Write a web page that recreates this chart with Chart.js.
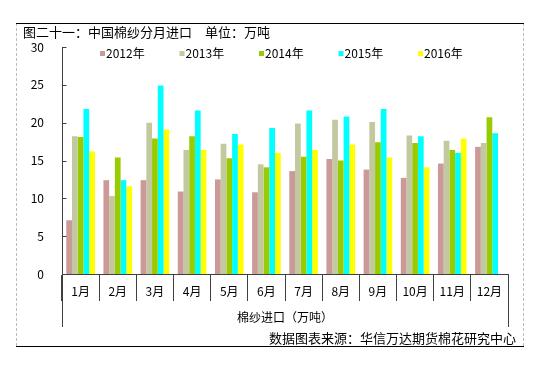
<!DOCTYPE html>
<html lang="zh">
<head>
    <meta charset="UTF-8">
    <title>中国棉纱分月进口</title>
    <style>
        html, body {
            margin: 0;
            padding: 0;
            background: #fff;
        }
        canvas {
            display: block;
        }
    </style>
    <script src="https://cdn.jsdelivr.net/npm/chart.js"></script>
</head>
<body>
    <canvas id="importChart" width="536" height="366"></canvas>
    <script>
        const months = ['1月', '2月', '3月', '4月', '5月', '6月', '7月', '8月', '9月', '10月', '11月', '12月'];
        const years = ['2012年', '2013年', '2014年', '2015年', '2016年'];
        const y2012 = [7.1, 12.4, 12.4, 10.9, 12.5, 10.8, 13.6, 15.2, 13.8, 12.7, 14.6, 16.8];
        const y2013 = [18.2, 10.3, 20.0, 16.4, 17.2, 14.5, 19.9, 20.4, 20.1, 18.3, 17.6, 17.3];
        const y2014 = [18.1, 15.4, 17.9, 18.2, 15.3, 14.1, 15.5, 15.0, 17.4, 17.3, 16.4, 20.7];
        const y2015 = [21.8, 12.4, 24.9, 21.6, 18.5, 19.3, 21.6, 20.8, 21.8, 18.2, 16.0, 18.6];
        const y2016 = [16.2, 11.6, 19.1, 16.4, 17.1, 16.0, 16.4, 17.1, 15.4, 14.1, 17.9, null];
        const colors = ['#cc9999', '#c2c9a0', '#99cc00', '#00ffff', '#ffff00'];

        const FONT = "'Noto Sans CJK SC', 'Noto Sans', sans-serif";

        // frame, titles, legend and the lines below the axis
        const decorations = {
            id: 'decorations',
            beforeDraw(chart) {
                const c = chart.ctx;
                c.save();
                c.fillStyle = '#fff';
                c.fillRect(0, 0, chart.width, chart.height);

                c.strokeStyle = '#bbb';
                c.lineWidth = 1;
                c.setLineDash([3, 2]);
                c.beginPath();
                c.moveTo(16.5, 23); c.lineTo(16.5, 346);
                c.moveTo(523.5, 23); c.lineTo(523.5, 346);
                c.stroke();
                c.setLineDash([]);

                c.strokeStyle = '#000';
                c.beginPath();
                c.moveTo(16, 23.5); c.lineTo(524, 23.5);
                c.moveTo(16, 346.5); c.lineTo(524, 346.5);
                c.stroke();

                c.fillStyle = '#000';
                c.font = '13px ' + FONT;
                c.textBaseline = 'middle';
                c.textAlign = 'left';
                c.fillText('图二十一：中国棉纱分月进口　单位：万吨', 23, 32);
                c.textAlign = 'right';
                c.fillText('数据图表来源：华信万达期货棉花研究中心', 516, 338);
                c.restore();
            },
            afterDraw(chart) {
                const c = chart.ctx;
                const area = chart.chartArea;
                const y = chart.scales.y;
                c.save();
                c.strokeStyle = '#404040';
                c.lineWidth = 1;
                c.beginPath();
                const l = Math.round(area.left) + 0.5;
                const r = Math.round(area.right) + 0.5;
                c.moveTo(l, area.bottom); c.lineTo(l, 327);
                c.moveTo(r, area.bottom); c.lineTo(r, 327);
                y.ticks.forEach(t => {
                    const py = Math.round(y.getPixelForValue(t.value)) + 0.5;
                    c.moveTo(l, py); c.lineTo(l + 4, py);
                });
                c.stroke();

                c.fillStyle = '#000';
                c.font = '12px ' + FONT;
                c.textAlign = 'center';
                c.textBaseline = 'middle';
                c.fillText('棉纱进口（万吨）', (area.left + area.right) / 2, 317);

                // legend
                c.textAlign = 'left';
                chart.data.datasets.forEach((ds, i) => {
                    const x = area.left + 38 + i * 79.5;
                    c.fillStyle = ds.backgroundColor;
                    c.fillRect(x, 51, 5, 5);
                    c.fillStyle = '#000';
                    c.fillText(ds.label, x + 6, 53.5);
                });
                c.restore();
            }
        };

        const series = [y2012, y2013, y2014, y2015, y2016];

        new Chart(document.getElementById('importChart'), {
            type: 'bar',
            data: {
                labels: months,
                datasets: years.map((label, i) => ({
                    label: label,
                    data: series[i],
                    backgroundColor: colors[i],
                    borderWidth: 0,
                    categoryPercentage: 0.77,
                    barPercentage: 1.0
                }))
            },
            options: {
                responsive: false,
                animation: false,
                devicePixelRatio: 1,
                layout: {
                    padding: { left: 0, right: 28, top: 47, bottom: 0 }
                },
                plugins: {
                    legend: { display: false },
                    tooltip: { enabled: false }
                },
                scales: {
                    x: {
                        offset: true,
                        grid: {
                            offset: true,
                            drawOnChartArea: false,
                            drawTicks: true,
                            tickLength: 27,
                            color: '#404040'
                        },
                        border: { display: true, color: '#404040' },
                        ticks: {
                            color: '#000',
                            font: { family: FONT, size: 12 },
                            padding: -17,
                            maxRotation: 0,
                            autoSkip: false
                        },
                        afterFit(scale) {
                            scale.height = 92;
                        }
                    },
                    y: {
                        min: 0,
                        max: 30,
                        grid: { display: false, drawTicks: false },
                        border: { display: true, color: '#404040' },
                        ticks: {
                            stepSize: 5,
                            color: '#000',
                            padding: 18,
                            font: { family: FONT, size: 12 }
                        },
                        afterFit(scale) {
                            scale.width = 62;
                        }
                    }
                }
            },
            plugins: [decorations]
        });
    </script>
</body>
</html>
